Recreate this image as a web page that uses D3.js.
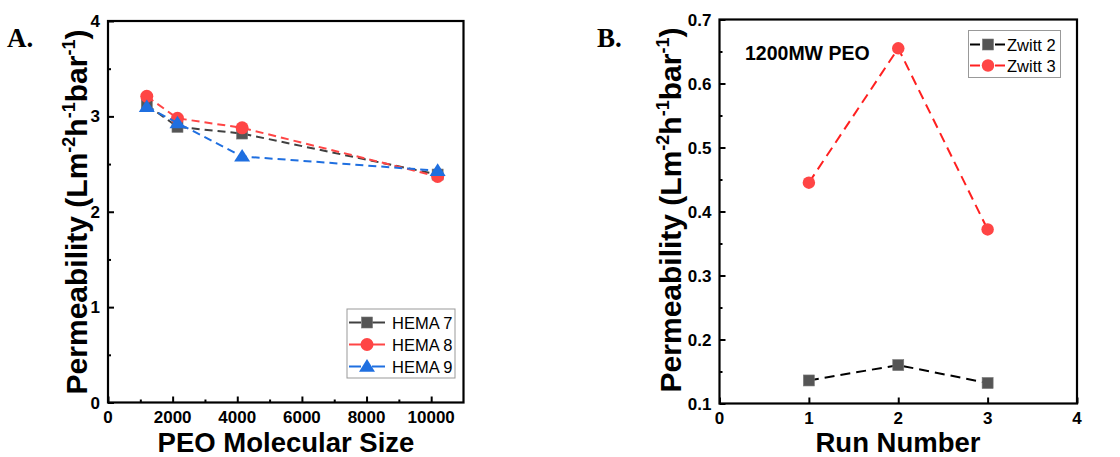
<!DOCTYPE html>
<html><head><meta charset="utf-8">
<script src="https://cdn.jsdelivr.net/npm/d3@7"></script>
<style>body{margin:0;background:#fff}svg{display:block}</style>
</head><body><svg id="c" width="1120" height="457" font-family="Arial, 'Liberation Sans', sans-serif"></svg>
<script>
// Panel A data
const peoSize = [1200, 2150, 4150, 10200];
const hema7 = [3.12, 2.89, 2.82, 2.39];
const hema8 = [3.21, 2.98, 2.88, 2.37];
const hema9 = [3.10, 2.93, 2.58, 2.43];
const seriesA = ["HEMA 7", "HEMA 8", "HEMA 9"];
const xTicksA = [0, 2000, 4000, 6000, 8000, 10000];
const yTicksA = [0, 1, 2, 3, 4];
// Panel B data
const runNumber = [1, 2, 3];
const zwitt2 = [0.136, 0.160, 0.132];
const zwitt3 = [0.445, 0.655, 0.372];
const seriesB = ["Zwitt 2", "Zwitt 3"];
const xTicksB = [0, 1, 2, 3, 4];
const yTicksB = [0.1, 0.2, 0.3, 0.4, 0.5, 0.6, 0.7];

const svg = d3.select("#c");
const GRAY = "#555555", RED = "#FF4545", BLUE = "#1F6FE0";
const SANS = "Arial, 'Liberation Sans', sans-serif";
const SERIF = "'Liberation Serif', 'Times New Roman', serif";

function drawFrame(g, x, y, xt, yt, xMinor, yMinor, xfmt, yfmt) {
  const [x0, x1] = x.range(), [y0, y1] = y.range();
  const tick = (axis, tx, ty, vals, size) => {
    const a = g.append("g").attr("transform", `translate(${tx},${ty})`)
      .call(axis.tickValues(vals).tickSize(size).tickFormat(""));
    a.select(".domain").remove();
    a.selectAll("text").remove();
    a.selectAll("line").attr("stroke", "#000").attr("stroke-width", 2);
  };
  tick(d3.axisTop(x), 0, y0, xt, 6);
  if (xMinor.length) tick(d3.axisTop(x), 0, y0, xMinor, 3);
  tick(d3.axisRight(y), x0, 0, yt, 6);
  if (yMinor.length) tick(d3.axisRight(y), x0, 0, yMinor, 3);
  g.selectAll(null).data(xt).enter().append("text")
    .attr("x", d => x(d)).attr("y", y0 + 20.5).attr("text-anchor", "middle")
    .style("font-family", SANS).style("font-size", "17px").style("font-weight", "bold").text(xfmt);
  g.selectAll(null).data(yt).enter().append("text")
    .attr("x", x0 - 8).attr("y", d => y(d) + 6).attr("text-anchor", "end")
    .style("font-family", SANS).style("font-size", "17px").style("font-weight", "bold").text(yfmt);
  g.append("rect").attr("x", x0).attr("y", y1).attr("width", x1 - x0).attr("height", y0 - y1)
    .attr("fill", "none").attr("stroke", "#000").attr("stroke-width", 2.2);
}

function yTitle(g, cx, cy) {
  const t = g.append("text").attr("transform", `translate(${cx},${cy}) rotate(-90)`)
    .attr("text-anchor", "middle").style("font-family", SANS).style("font-size", "30px").style("font-weight", "bold");
  const sup = (s) => { t.append("tspan").style("font-size", "18px").attr("dy", -12).text(s); };
  const norm = (s) => { t.append("tspan").attr("dy", 12).text(s); };
  t.append("tspan").text("Permeability (Lm");
  sup("-2"); norm("h"); sup("-1"); norm("bar"); sup("-1"); norm(")");
}

function marker(g, type, cx, cy, color, sz) {
  if (type === "square") {
    g.append("rect").attr("x", cx - sz / 2).attr("y", cy - sz / 2).attr("width", sz).attr("height", sz)
      .attr("fill", color).attr("stroke", "#777").attr("stroke-width", 0.6);
  } else if (type === "circle") {
    g.append("circle").attr("cx", cx).attr("cy", cy).attr("r", sz / 2).attr("fill", color);
  } else {
    const h = sz * 0.95;
    g.append("path").attr("d", `M${cx},${cy - h * 0.6}L${cx + sz / 2 + 1.5},${cy + h * 0.42}L${cx - sz / 2 - 1.5},${cy + h * 0.42}Z`)
      .attr("fill", color);
  }
}

// ---------- Panel A ----------
const gA = svg.append("g");
const xA = d3.scaleLinear().domain([0, 11000]).range([108, 463.5]);
const yA = d3.scaleLinear().domain([0, 4]).range([402.5, 21]);
drawFrame(gA, xA, yA, xTicksA, yTicksA,
  d3.range(1000, 11000, 2000), d3.range(0.5, 4, 1), d => d, d => d);
const dataA = [
  {name: seriesA[0], vals: hema7, color: GRAY, line: "#404040", type: "square", sz: 11},
  {name: seriesA[1], vals: hema8, color: RED, line: RED, type: "circle", sz: 13},
  {name: seriesA[2], vals: hema9, color: BLUE, line: BLUE, type: "triangle", sz: 13}
];
const lineA = d3.line().x(d => xA(d[0])).y(d => yA(d[1]));
dataA.forEach(s => {
  const pts = peoSize.map((p, i) => [p, s.vals[i]]);
  gA.append("path").attr("d", lineA(pts)).attr("fill", "none").attr("stroke", s.line)
    .attr("stroke-width", 2).attr("stroke-dasharray", "8,5");
  pts.forEach(p => marker(gA, s.type, xA(p[0]), yA(p[1]), s.color, s.sz));
});
gA.append("rect").attr("x", 347).attr("y", 309).attr("width", 108).attr("height", 69)
  .attr("fill", "#fff").attr("stroke", "#999").attr("stroke-width", 1);
dataA.forEach((s, i) => {
  const cy = 322.5 + i * 22;
  gA.append("line").attr("x1", 349).attr("x2", 361).attr("y1", cy).attr("y2", cy).attr("stroke", s.line).attr("stroke-width", 2);
  gA.append("line").attr("x1", 372).attr("x2", 385).attr("y1", cy).attr("y2", cy).attr("stroke", s.line).attr("stroke-width", 2);
  marker(gA, s.type, 367, cy, s.color, s.sz);
  gA.append("text").attr("x", 392).attr("y", cy + 6).style("font-family", SANS).style("font-size", "16.5px").text(s.name);
});
yTitle(gA, 87, 212);
gA.append("text").attr("x", 286).attr("y", 451.5).attr("text-anchor", "middle")
  .style("font-family", SANS).style("font-size", "27.5px").style("font-weight", "bold").text("PEO Molecular Size");
gA.append("text").attr("x", 7).attr("y", 47)
  .style("font-family", SERIF).style("font-size", "27px").style("font-weight", "bold").text("A.");

// ---------- Panel B ----------
const gB = svg.append("g");
const xB = d3.scaleLinear().domain([0, 4]).range([719.5, 1077]);
const yB = d3.scaleLinear().domain([0.1, 0.7]).range([403.5, 19.5]);
drawFrame(gB, xB, yB, xTicksB, yTicksB, [],
  d3.range(0.15, 0.7, 0.1), d => d, d => d3.format(".1f")(d));
const dataB = [
  {name: seriesB[0], vals: zwitt2, color: GRAY, line: "#000", type: "square", sz: 11},
  {name: seriesB[1], vals: zwitt3, color: RED, line: "#FF2020", type: "circle", sz: 12.5}
];
const lineB = d3.line().x(d => xB(d[0])).y(d => yB(d[1]));
dataB.forEach(s => {
  const pts = runNumber.map((r, i) => [r, s.vals[i]]);
  gB.append("path").attr("d", lineB(pts)).attr("fill", "none").attr("stroke", s.line)
    .attr("stroke-width", 2).attr("stroke-dasharray", "10,6");
  pts.forEach(p => marker(gB, s.type, xB(p[0]), yB(p[1]), s.color, s.sz));
});
gB.append("rect").attr("x", 968.5).attr("y", 30.5).attr("width", 92).attr("height", 47)
  .attr("fill", "#fff").attr("stroke", "#999").attr("stroke-width", 1);
dataB.forEach((s, i) => {
  const cy = 44.5 + i * 21;
  gB.append("line").attr("x1", 970).attr("x2", 980).attr("y1", cy).attr("y2", cy).attr("stroke", s.line).attr("stroke-width", 2);
  gB.append("line").attr("x1", 995).attr("x2", 1005).attr("y1", cy).attr("y2", cy).attr("stroke", s.line).attr("stroke-width", 2);
  marker(gB, s.type, 988, cy, s.color, s.sz);
  gB.append("text").attr("x", 1007).attr("y", cy + 6).style("font-family", SANS).style("font-size", "16.5px").text(s.name);
});
gB.append("text").attr("x", 745).attr("y", 60).style("font-family", SANS).style("font-size", "19.5px").style("font-weight", "bold").text("1200MW PEO");
yTitle(gB, 681, 210);
gB.append("text").attr("x", 898).attr("y", 451.5).attr("text-anchor", "middle")
  .style("font-family", SANS).style("font-size", "27.5px").style("font-weight", "bold").text("Run Number");
gB.append("text").attr("x", 597).attr("y", 47)
  .style("font-family", SERIF).style("font-size", "27px").style("font-weight", "bold").text("B.");
</script></body></html>
